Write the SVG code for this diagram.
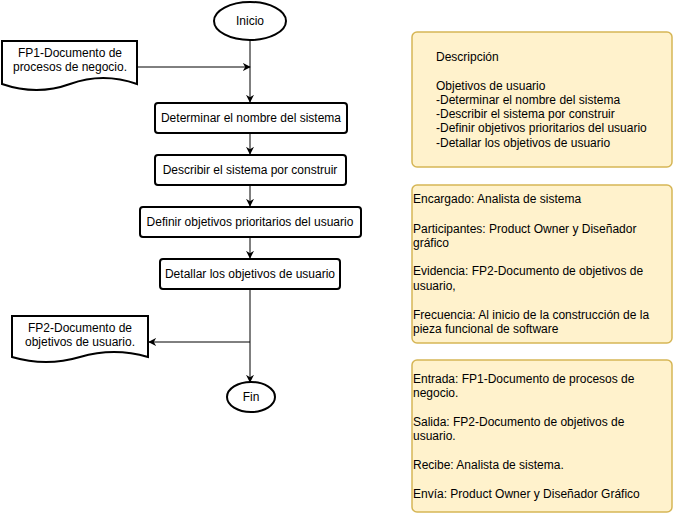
<svg xmlns="http://www.w3.org/2000/svg" width="673" height="513" viewBox="0 0 673 513">
<style>
text{font-family:"Liberation Sans",Arial,sans-serif;font-size:12px;fill:#000}
.c{text-anchor:middle}
.sh{fill:#fff;stroke:#000;stroke-width:2}
.note{fill:#fff2cc;stroke:#d6b656;stroke-width:1.5}
.ln{fill:none;stroke:#000;stroke-width:1}
</style>
<defs>
<marker id="ar" viewBox="0 0 10 10" refX="9" refY="5" markerWidth="8" markerHeight="8" markerUnits="userSpaceOnUse" orient="auto">
<path d="M0,0 L10,5 L0,10 L3,5 Z" fill="#000"/>
</marker>
</defs>
<g id="connectors">
<line class="ln" x1="250" y1="40" x2="250" y2="102" marker-end="url(#ar)"/>
<line class="ln" x1="137" y1="67" x2="250" y2="67" marker-end="url(#ar)"/>
<line class="ln" x1="250" y1="133" x2="250" y2="154" marker-end="url(#ar)"/>
<line class="ln" x1="250" y1="185" x2="250" y2="206" marker-end="url(#ar)"/>
<line class="ln" x1="250" y1="237" x2="250" y2="258" marker-end="url(#ar)"/>
<line class="ln" x1="250" y1="289" x2="250" y2="382" marker-end="url(#ar)"/>
<line class="ln" x1="250" y1="342" x2="149" y2="342" marker-end="url(#ar)"/>
</g>
<g id="inicio">
<ellipse class="sh" cx="250" cy="21" rx="36" ry="19"/>
<text class="c" x="250" y="25">Inicio</text>
</g>
<g id="fp1">
<path class="sh" d="M2,41 H137 V84 Q103,72 70,84 T2,84 Z"/>
<text class="c" x="70" y="57">FP1-Documento de</text>
<text class="c" x="70" y="71">procesos de negocio.</text>
</g>
<g id="determinar">
<rect class="sh" x="155" y="103" width="192" height="30" rx="3"/>
<text class="c" x="251" y="122">Determinar el nombre del sistema</text>
</g>
<g id="describir">
<rect class="sh" x="155" y="155" width="191" height="30" rx="3"/>
<text class="c" x="250" y="174">Describir el sistema por construir</text>
</g>
<g id="definir">
<rect class="sh" x="140" y="207" width="221" height="30" rx="3"/>
<text class="c" x="250" y="226">Definir objetivos prioritarios del usuario</text>
</g>
<g id="detallar">
<rect class="sh" x="160" y="259" width="180" height="30" rx="3"/>
<text class="c" x="250" y="278">Detallar los objetivos de usuario</text>
</g>
<g id="fp2">
<path class="sh" d="M12,316 H148 V357 Q114,347 80,357 T12,357 Z"/>
<text class="c" x="80" y="332">FP2-Documento de</text>
<text class="c" x="80" y="346">objetivos de usuario.</text>
</g>
<g id="fin">
<ellipse class="sh" cx="251" cy="397" rx="24" ry="15"/>
<text class="c" x="251" y="401">Fin</text>
</g>
<g id="descripcion">
<rect class="note" x="412" y="32" width="260" height="135" rx="5"/>
<text x="436" y="61">Descripción</text>
<text x="436" y="90">Objetivos de usuario</text>
<text x="436" y="104">-Determinar el nombre del sistema</text>
<text x="436" y="118">-Describir el sistema por construir</text>
<text x="436" y="132">-Definir objetivos prioritarios del usuario</text>
<text x="436" y="147">-Detallar los objetivos de usuario</text>
</g>
<g id="roles">
<rect class="note" x="412" y="185" width="260" height="158" rx="5"/>
<text x="413" y="203">Encargado: Analista de sistema</text>
<text x="413" y="233">Participantes: Product Owner y Diseñador</text>
<text x="413" y="247">gráfico</text>
<text x="413" y="275">Evidencia: FP2-Documento de objetivos de</text>
<text x="413" y="290">usuario,</text>
<text x="413" y="319">Frecuencia: Al inicio de la construcción de la</text>
<text x="413" y="333">pieza funcional de software</text>
</g>
<g id="entradas">
<rect class="note" x="412" y="360" width="260" height="152" rx="5"/>
<text x="413" y="383">Entrada: FP1-Documento de procesos de</text>
<text x="413" y="397">negocio.</text>
<text x="413" y="426">Salida: FP2-Documento de objetivos de</text>
<text x="413" y="440">usuario.</text>
<text x="413" y="469">Recibe: Analista de sistema.</text>
<text x="413" y="498">Envía: Product Owner y Diseñador Gráfico</text>
</g>
</svg>
